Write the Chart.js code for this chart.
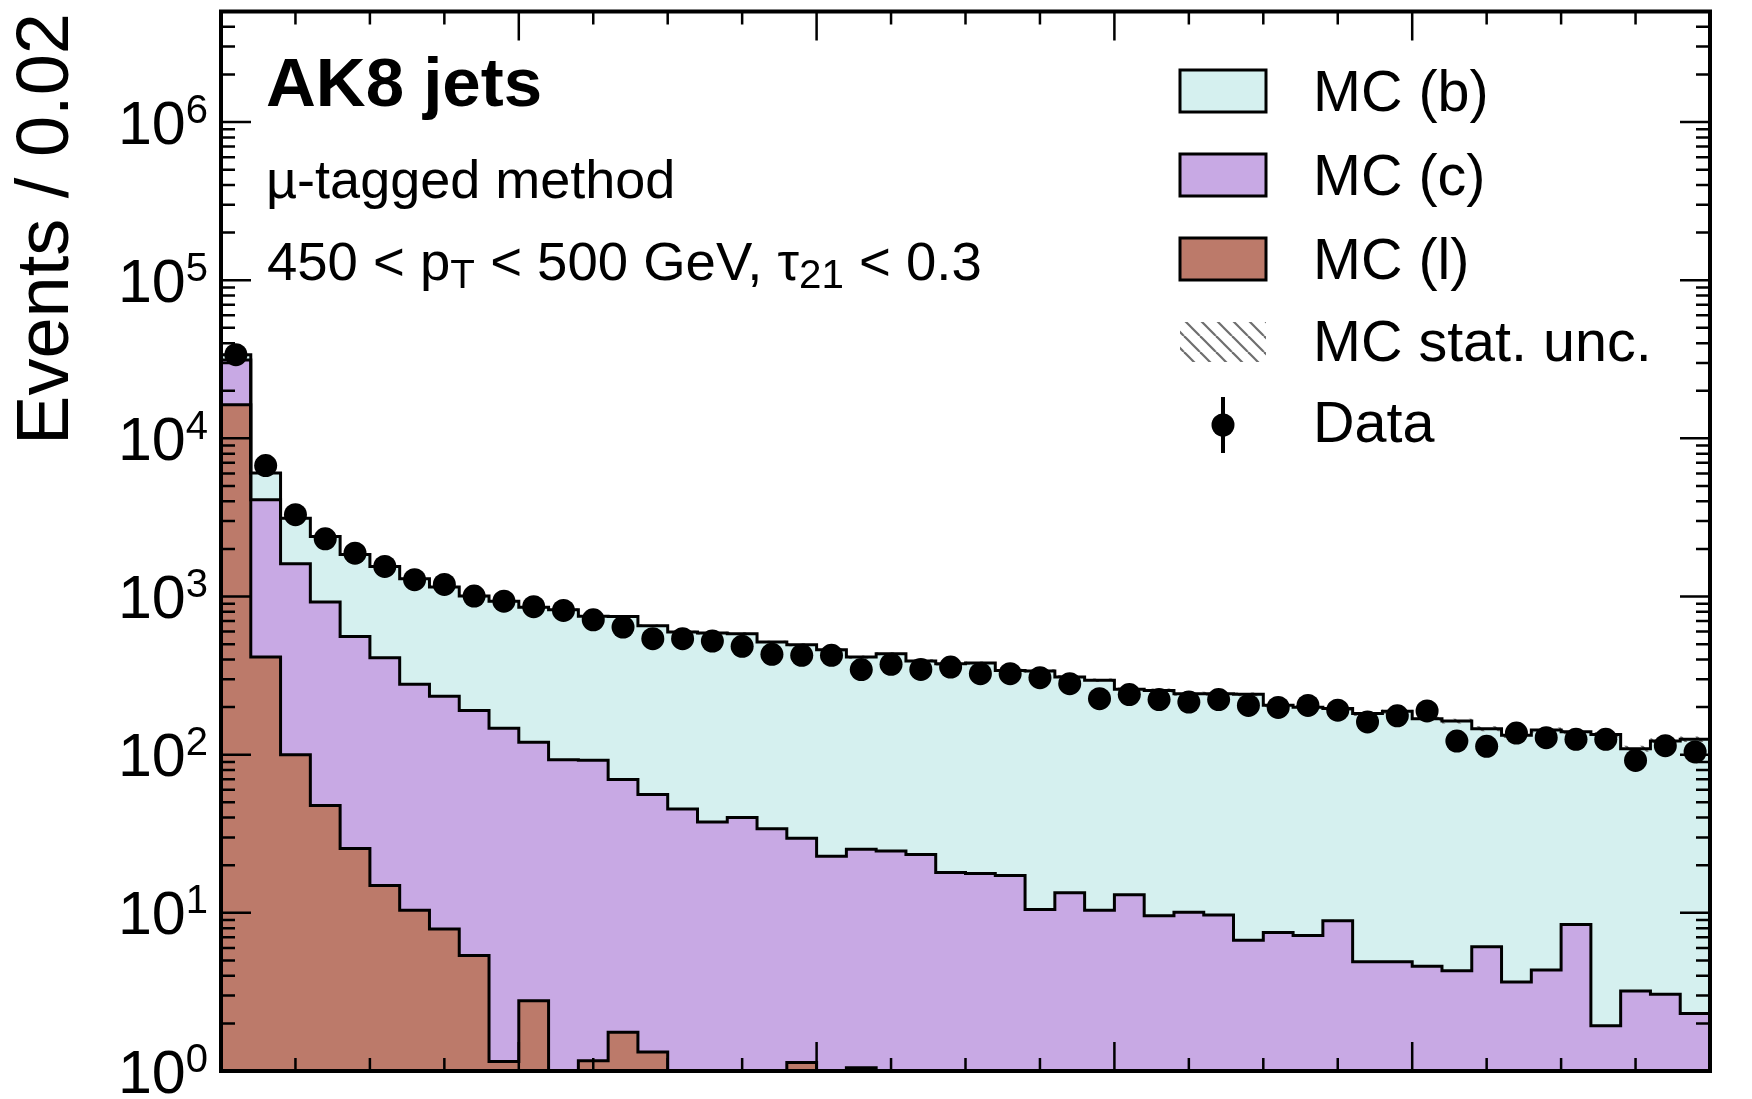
<!DOCTYPE html>
<html>
<head>
<meta charset="utf-8">
<script src="https://cdn.jsdelivr.net/npm/chart.js@4.4.0/dist/chart.umd.min.js"></script>
<style>
html,body{margin:0;padding:0;background:#fff;}
#wrap{position:relative;width:1752px;height:1099px;overflow:hidden;font-family:"Liberation Sans",Arial,Helvetica,sans-serif;color:#000;}
#c{position:absolute;left:0;top:0;}
.t{position:absolute;white-space:nowrap;line-height:1;}
.sub{font-size:0.74em;position:relative;top:0.2em;}
</style>
</head>
<body>
<div id="wrap">
<canvas id="c" width="1752" height="1099"></canvas>
<div class="t" id="ytitle" style="font-size:74px;width:1000px;text-align:right;transform-origin:0 0;transform:rotate(-90deg);">Events / 0.02</div>
<div class="t" id="ak8" style="font-size:69px;font-weight:bold;">AK8 jets</div>
<div class="t" id="ann1" style="font-size:54px;">µ-tagged method</div>
<div class="t" id="ann2" style="font-size:54.5px;">450 &lt; p<span class="sub">T</span> &lt; 500 GeV, τ<span class="sub">21</span> &lt; 0.3</div>
<div class="t leg" style="font-size:57.5px;">MC (b)</div>
<div class="t leg" style="font-size:57.5px;">MC (c)</div>
<div class="t leg" style="font-size:57.5px;">MC (l)</div>
<div class="t leg" style="font-size:57.5px;">MC stat. unc.</div>
<div class="t leg" style="font-size:57.5px;">Data</div>
</div>
<script>
// ---------------- data ----------------
const binEdges = [0.00,0.02,0.04,0.06,0.08,0.10,0.12,0.14,0.16,0.18,0.20,0.22,0.24,0.26,0.28,0.30,0.32,0.34,0.36,0.38,0.40,0.42,0.44,0.46,0.48,0.50,0.52,0.54,0.56,0.58,0.60,0.62,0.64,0.66,0.68,0.70,0.72,0.74,0.76,0.78,0.80,0.82,0.84,0.86,0.88,0.90,0.92,0.94,0.96,0.98,1.00];

const mcB = [2500,1960,1519,1478,1285,1140,1017,914,816,788,
             737,733,657,679,598,551,550,542,481,466,
             438,389,410,368,358,362,324,328,297,285,
             246,245,233,233,234,198,192,187,177,183,
             164,159,140,129,139,131,132,106,119,123];

const mcC = [15000,3676,1511,874,534,395,268,226,185,146,
             117,93,91,68,54.7,45.4,37.5,40,34,28.5,
             22.8,24.2,24.6,23.4,18,17.7,17.2,10.5,13.4,10.4,
             13,9.6,10.1,9.7,6.7,7.5,7.2,8.9,4.9,4.9,
             4.6,4.3,6.1,3.65,4.35,8.45,1.93,3.2,3.06,2.31];

const mcL = [16300,414,100,47.7,25.5,14.9,10.4,7.9,5.38,1.15,
             2.78,0,1.16,1.76,1.32,0,0,0,0,1.13,
             0,1.05,0,0,0,0,0,0,0,0,
             0,0,0,0,0,0,0,0,0,0,
             0,0,0,0,0,0,0,0,0,0];

const dataCounts = [33800,6730,3290,2317,1880,1550,1277,1192,1006,935,
                    862,817,713,641,541,541,523,484,431,425,
                    425,345,373,346,358,325,325,307,281,226,
                    240,223,215,223,205,199,205,191,161,176,
                    189,122,113,137,128,125,125,92,114,104];

// relative MC statistical uncertainty per bin (estimated)
const mcStatRel = [0.006,0.010,0.012,0.012,0.013,0.014,0.015,0.015,0.016,0.016,
                   0.017,0.017,0.018,0.018,0.019,0.020,0.020,0.020,0.021,0.021,
                   0.022,0.023,0.023,0.024,0.024,0.024,0.025,0.025,0.026,0.026,
                   0.028,0.028,0.029,0.029,0.029,0.031,0.032,0.032,0.033,0.033,
                   0.035,0.035,0.037,0.039,0.038,0.038,0.039,0.043,0.041,0.040];

const yTickExponents = [0,1,2,3,4,5,6];
const xMajorTicks = [0.2,0.4,0.6,0.8];
const xMinorTicks = [0.05,0.10,0.15,0.25,0.30,0.35,0.45,0.50,0.55,0.65,0.70,0.75,0.85,0.90,0.95];

const legendLabels = ['MC (b)','MC (c)','MC (l)','MC stat. unc.','Data'];

// ---------------- styles ----------------
const colB = '#d5f0ef', colC = '#c8a9e4', colL = '#bc7a6a';
const BELOW_AXIS = 1e-2; // empty bins sit below the log-axis floor

// cumulative stack tops
const topL = mcL.slice();
const topC = mcL.map((v,i)=>v+mcC[i]);
const topB = topC.map((v,i)=>v+mcB[i]);

function stepPoints(vals){
  const pts = vals.map((v,i)=>({x:binEdges[i], y: v>0 ? v : BELOW_AXIS}));
  pts.push({x:binEdges[vals.length], y: pts[pts.length-1].y});
  return pts;
}
const dataPts = dataCounts.map((v,i)=>({x:(binEdges[i]+binEdges[i+1])/2, y:v}));

// hatch pattern
function makeHatch(){
  const s = 16, pc = document.createElement('canvas');
  pc.width = s; pc.height = s;
  const g = pc.getContext('2d');
  g.strokeStyle = '#6e6e6e'; g.lineWidth = 2.2;
  for (const x0 of [-s,0,s]) { g.beginPath(); g.moveTo(x0,0); g.lineTo(x0+s,s); g.stroke(); }
  return g.createPattern(pc,'repeat');
}
const hatch = makeHatch();

// ---------------- custom axes / legend plugin ----------------
const axesPlugin = {
  id: 'axesPlugin',
  afterDatasetsDraw(chart){
    const ctx = chart.ctx, ys = chart.scales.y;
    const ds = chart.data.datasets[0].data;
    ctx.save();
    ctx.strokeStyle = '#000'; ctx.lineWidth = 3;
    for (const p of ds){
      const e = Math.sqrt(p.y);
      const px = chart.scales.x.getPixelForValue(p.x);
      ctx.beginPath();
      ctx.moveTo(px, ys.getPixelForValue(p.y - e));
      ctx.lineTo(px, ys.getPixelForValue(p.y + e));
      ctx.stroke();
    }
    ctx.restore();
  },
  afterDraw(chart){
    const ctx = chart.ctx, a = chart.chartArea;
    const xs = chart.scales.x, ys = chart.scales.y;
    ctx.save();
    ctx.strokeStyle = '#000';
    ctx.lineWidth = 2.5;
    // y ticks
    const yMax = ys.max;
    for (const e of yTickExponents){
      const base = Math.pow(10,e);
      const py = ys.getPixelForValue(base);
      ctx.beginPath();
      ctx.moveTo(a.left, py); ctx.lineTo(a.left+30, py);
      ctx.moveTo(a.right, py); ctx.lineTo(a.right-30, py);
      ctx.stroke();
      for (let m=2; m<=9; m++){
        const v = m*base;
        if (v > yMax) break;
        const pm = ys.getPixelForValue(v);
        ctx.beginPath();
        ctx.moveTo(a.left, pm); ctx.lineTo(a.left+14, pm);
        ctx.moveTo(a.right, pm); ctx.lineTo(a.right-14, pm);
        ctx.stroke();
      }
    }
    // x ticks
    for (const v of xMajorTicks){
      const px = xs.getPixelForValue(v);
      ctx.beginPath();
      ctx.moveTo(px, a.bottom); ctx.lineTo(px, a.bottom-29);
      ctx.moveTo(px, a.top); ctx.lineTo(px, a.top+29);
      ctx.stroke();
    }
    for (const v of xMinorTicks){
      const px = xs.getPixelForValue(v);
      ctx.beginPath();
      ctx.moveTo(px, a.bottom); ctx.lineTo(px, a.bottom-13);
      ctx.moveTo(px, a.top); ctx.lineTo(px, a.top+13);
      ctx.stroke();
    }
    // frame
    ctx.lineWidth = 4;
    ctx.strokeRect(a.left, a.top, a.right-a.left, a.bottom-a.top);
    // y tick labels 10^n
    ctx.fillStyle = '#000';
    ctx.textBaseline = 'alphabetic';
    const fBase = '61px "Liberation Sans", Arial, sans-serif';
    const fSup = '40px "Liberation Sans", Arial, sans-serif';
    for (const e of yTickExponents){
      const py = ys.getPixelForValue(Math.pow(10,e));
      ctx.font = fBase; const wB = ctx.measureText('10').width;
      ctx.font = fSup; const wS = ctx.measureText(String(e)).width;
      const right = a.left - 13;
      ctx.font = fBase; ctx.textAlign = 'left';
      ctx.fillText('10', right - wS - wB, py + 21.5);
      ctx.font = fSup;
      ctx.fillText(String(e), right - wS, py + 0.5);
    }
    // legend swatches
    const sx = 1180, sw = 86, sh = 42;
    const rows = [70,154,238];
    const cols = [colB,colC,colL];
    ctx.lineWidth = 3;
    rows.forEach((ry,i)=>{
      ctx.fillStyle = cols[i];
      ctx.fillRect(sx, ry, sw, sh);
      ctx.strokeRect(sx, ry, sw, sh);
    });
    ctx.fillStyle = hatch;
    ctx.fillRect(sx, 322, sw, 40);
    // data marker
    ctx.fillStyle = '#000';
    ctx.lineWidth = 4;
    ctx.beginPath(); ctx.moveTo(1223, 397); ctx.lineTo(1223, 453); ctx.stroke();
    ctx.beginPath(); ctx.arc(1223, 425, 11.5, 0, Math.PI*2); ctx.fill();
    ctx.restore();
  }
};

const lineCommon = {type:'line', stepped:true, pointRadius:0, borderColor:'#000', borderWidth:3, tension:0};

new Chart(document.getElementById('c'), {
  type: 'line',
  data: {
    datasets: [
      {type:'scatter', label:'Data', data:dataPts, pointRadius:11.5, pointBackgroundColor:'#000', pointBorderWidth:0, showLine:false},
      {...lineCommon, label:'MC stat. unc. up', data:stepPoints(topB.map((v,i)=>v*(1+mcStatRel[i]))), borderWidth:0, borderColor:'rgba(0,0,0,0)', backgroundColor:hatch, fill:2},
      {...lineCommon, label:'MC stat. unc. down', data:stepPoints(topB.map((v,i)=>v*(1-mcStatRel[i]))), borderWidth:0, borderColor:'rgba(0,0,0,0)', fill:false},
      {...lineCommon, label:'MC (b)', data:stepPoints(topB), backgroundColor:colB, fill:4},
      {...lineCommon, label:'MC (c)', data:stepPoints(topC), backgroundColor:colC, fill:5},
      {...lineCommon, label:'MC (l)', data:stepPoints(topL), backgroundColor:colL, fill:'start'}
    ]
  },
  options: {
    responsive:false, animation:false, devicePixelRatio:1,
    layout:{padding:{left:221, right:42, top:10, bottom:28}},
    scales:{
      x:{type:'linear', min:0, max:1, display:false},
      y:{type:'logarithmic', min:1, max:5e6, display:false}
    },
    plugins:{legend:{display:false}, tooltip:{enabled:false}, filler:{drawTime:'beforeDatasetsDraw', propagate:false}}
  },
  plugins:[axesPlugin]
});

// ---------------- text placement (baseline based) ----------------
const ASC = 0.8465; // baseline offset for line-height:1 in Liberation Sans
function place(el, x, baseline, fs){ el.style.left = x+'px'; el.style.top = (baseline - ASC*fs)+'px'; }
place(document.getElementById('ak8'), 266, 106.5, 69);
place(document.getElementById('ann1'), 266, 198, 54);
place(document.getElementById('ann2'), 267, 281, 54.5);
const legBase = [112,196,280,362,443];
document.querySelectorAll('.leg').forEach((el,i)=>place(el, 1313, legBase[i], 57.5));
const yt = document.getElementById('ytitle');
yt.style.left = (69 - ASC*74)+'px';
yt.style.top = (13 + 1000)+'px';
</script>
</body>
</html>
